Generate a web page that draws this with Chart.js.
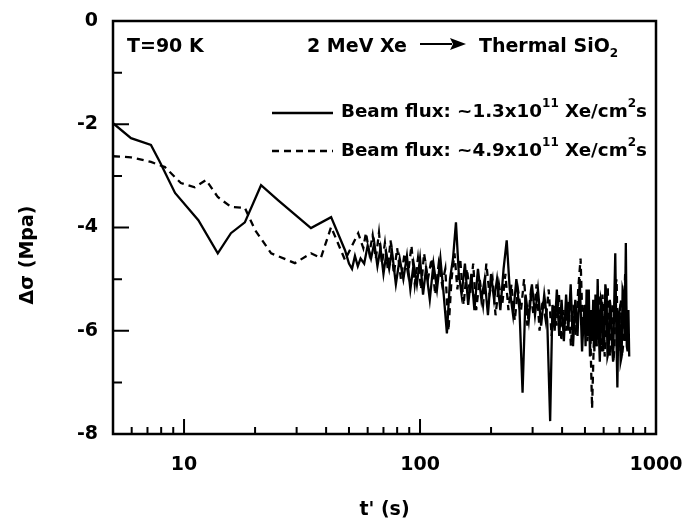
<!DOCTYPE html>
<html>
<head>
<meta charset="utf-8">
<script src="https://cdn.jsdelivr.net/npm/chart.js@4.4.0/dist/chart.umd.min.js"></script>
<style>
  html, body { margin: 0; padding: 0; background: #fff; }
</style>
</head>
<body>
<canvas id="chart" width="683" height="521"></canvas>
<script>
// t' (s) and stress change (MPa)
const timeSolid = [
  5, 5.96, 7.24, 7.9, 9.16, 11.5, 13.9, 15.8, 18.1, 21.2,
  25, 30.4, 34.5, 42, 48.1,
  50, 51.5, 53, 54.5, 56, 58, 60, 62, 64, 66,
  68, 70, 72, 74, 76, 79, 82, 85, 88, 91,
  94, 97, 100, 103, 106, 110, 114, 118, 122, 126,
  130, 134, 138, 142, 146, 150, 155, 160, 165, 170,
  176, 182, 188, 194, 200, 206, 212, 219, 226, 233,
  240, 248, 256, 264, 272, 280, 289, 298, 307, 316,
  326, 336, 346, 356, 364, 372, 380, 389, 398, 407,
  416, 425, 435, 445, 455, 465, 475, 486,
  497, 503, 508, 514, 519, 525, 530, 536, 542, 548,
  554, 560, 566, 572, 578, 585, 591, 597, 604, 610,
  617, 623, 630, 637, 644, 651, 658, 665, 672, 679,
  686, 693, 700, 708, 715, 722, 730, 737, 745, 752,
  758, 764, 770
];
const stressSolid = [
  -1.98, -2.27, -2.40, -2.73, -3.33, -3.86, -4.50, -4.11, -3.90, -3.18,
  -3.47, -3.80, -4.01, -3.80, -4.44,
  -4.70, -4.80, -4.55, -4.75, -4.60, -4.70, -4.35, -4.60, -4.30, -4.75,
  -4.40, -4.90, -4.50, -4.80, -4.45, -5.10, -4.60, -5.00, -4.55, -5.20,
  -4.70, -5.10, -4.60, -5.30, -4.80, -5.40, -4.70, -5.20, -4.60, -5.30,
  -6.05, -5.00, -4.60, -3.90, -4.90, -5.30, -4.70, -5.50, -4.90, -5.60,
  -4.80, -5.40, -5.00, -5.70, -4.90, -5.40, -5.00, -5.60, -4.80, -4.25,
  -5.20, -5.70, -5.00, -5.60, -7.20, -5.30, -5.80, -5.10, -5.70, -5.20,
  -5.90, -5.30, -5.80, -7.75, -5.50, -6.00, -5.20, -6.10, -5.40, -6.20,
  -5.30, -6.00, -5.10, -6.30, -5.40, -6.10, -5.00, -6.40,
  -5.50, -6.30, -5.20, -6.10, -5.20, -6.50, -5.60, -6.20, -5.40, -6.40,
  -5.30, -6.30, -5.00, -6.00, -6.60, -5.40, -5.50, -6.40, -6.20, -5.10,
  -5.30, -6.50, -6.40, -5.40, -5.60, -6.30, -6.60, -5.50, -4.50, -6.00,
  -7.10, -5.70, -5.60, -6.60, -6.50, -5.20, -5.30, -6.20, -4.30, -6.30,
  -6.40, -5.60, -6.50
];
const timeDashed = [
  5, 5.96, 7.24, 8.3, 9.7, 11.1, 12.4, 13.9, 15.8, 18.1,
  20, 23.4, 29.5, 34.5, 38, 42, 48.1, 54.7,
  57.5, 59, 61, 63, 65, 67, 69, 71, 73, 75,
  77.5, 80, 83, 86, 89, 92, 95, 98, 101, 104,
  108, 112, 116, 120, 124, 128, 132, 136, 140, 144,
  148, 153, 158, 163, 168, 173, 179, 185, 191, 197,
  203, 209, 216, 223, 230, 237, 244, 252, 260, 268,
  276, 285, 294, 303, 312, 321, 331, 341, 351, 361,
  370, 379, 388, 397, 406, 416, 426, 436, 446, 457,
  468, 479, 490, 501, 512, 524, 536, 548, 560, 573,
  580, 586, 593, 599, 606, 612, 619, 625, 632, 639,
  646, 653, 660, 667, 674, 681, 688, 695, 703, 710,
  718, 725, 733, 740, 748, 755, 761, 767
];
const stressDashed = [
  -2.62, -2.64, -2.73, -2.83, -3.14, -3.22, -3.08, -3.41, -3.60, -3.62,
  -4.05, -4.50, -4.69, -4.50, -4.59, -3.99, -4.63, -4.11,
  -4.40, -4.10, -4.50, -4.15, -4.60, -4.10, -4.70, -4.30, -4.80, -4.25,
  -4.90, -4.40, -5.00, -4.50, -4.90, -4.35, -5.10, -4.60, -5.20, -4.50,
  -5.00, -4.60, -5.30, -4.70, -5.10, -4.80, -6.00, -5.00, -4.50, -5.20,
  -4.60, -5.50, -4.80, -5.30, -4.70, -5.60, -5.00, -5.50, -4.70, -5.30,
  -5.00, -5.70, -5.10, -5.50, -4.90, -5.60, -5.10, -5.80, -5.20, -5.60,
  -5.00, -5.90, -5.30, -5.70, -5.10, -6.00, -5.40, -5.80, -5.20, -6.10,
  -5.50, -5.90, -5.30, -6.20, -5.60, -6.00, -5.40, -6.30, -5.50, -6.10,
  -5.20, -4.60, -6.10, -5.50, -6.20, -5.60, -7.50, -5.80, -6.30, -5.30,
  -6.10, -6.40, -5.30, -5.60, -6.50, -6.20, -5.20, -5.20, -6.30, -6.50,
  -5.60, -5.50, -6.60, -6.30, -5.10, -5.00, -6.20, -6.40, -5.70, -5.40,
  -6.50, -6.30, -5.50, -4.90, -5.80, -6.10, -6.30, -6.00
];

const xLabelTicks = [10, 100, 1000];
const xMajorMarks = [10, 100];
const xMinorMarks = [6, 7, 8, 9, 20, 30, 40, 50, 60, 70, 80, 90, 200, 300, 400, 500, 600, 700, 800, 900];
const yLabelTicks = [0, -2, -4, -6, -8];
const yMarks = [-1, -2, -3, -4, -5, -6, -7];

const legendSolid = [["Beam flux: ~1.3x10"], ["11", "sup"], [" Xe/cm"], ["2", "sup"], ["s"]];
const legendDashed = [["Beam flux: ~4.9x10"], ["11", "sup"], [" Xe/cm"], ["2", "sup"], ["s"]];

const FONT = '"DejaVu Sans", "Liberation Sans", sans-serif';

function drawRich(ctx, x, y, parts, size) {
  parts.forEach(([txt, kind]) => {
    if (kind === "sup") {
      ctx.font = "bold 12px " + FONT;
      ctx.fillText(txt, x, y - 8);
    } else if (kind === "sub") {
      ctx.font = "bold 12px " + FONT;
      ctx.fillText(txt, x, y + 7);
    } else {
      ctx.font = "bold " + size + "px " + FONT;
      ctx.fillText(txt, x, y);
    }
    x += ctx.measureText(txt).width;
  });
  return x;
}

const framePlugin = {
  id: "frame",
  afterDraw(chart) {
    const { ctx, chartArea: a, scales: { x, y } } = chart;
    ctx.save();
    ctx.strokeStyle = "#000";
    ctx.fillStyle = "#000";
    ctx.lineWidth = 2.5;
    ctx.strokeRect(a.left, a.top, a.right - a.left, a.bottom - a.top);

    // inward tick marks
    ctx.lineWidth = 2;
    ctx.beginPath();
    yMarks.forEach((v) => {
      const py = y.getPixelForValue(v);
      const len = v % 2 === 0 ? 16 : 9;
      ctx.moveTo(a.left, py);
      ctx.lineTo(a.left + len, py);
    });
    xMinorMarks.forEach((v) => {
      const px = x.getPixelForValue(v);
      ctx.moveTo(px, a.bottom);
      ctx.lineTo(px, a.bottom - 7);
    });
    xMajorMarks.forEach((v) => {
      const px = x.getPixelForValue(v);
      ctx.moveTo(px, a.bottom);
      ctx.lineTo(px, a.bottom - 15);
    });
    ctx.stroke();

    // y axis title
    ctx.save();
    ctx.translate(28, 255);
    ctx.rotate(-Math.PI / 2);
    ctx.font = "bold 19px " + FONT;
    ctx.textAlign = "center";
    ctx.textBaseline = "middle";
    ctx.fillText("Δσ (Mpa)", 0, 0);
    ctx.restore();

    // header notes
    ctx.textBaseline = "middle";
    ctx.textAlign = "left";
    ctx.font = "bold 19px " + FONT;
    ctx.fillText("T=90 K", 127, 47);
    drawRich(ctx, 307, 47, [["2 MeV Xe"]], 19);
    ctx.lineWidth = 2;
    ctx.beginPath();
    ctx.moveTo(420, 44);
    ctx.lineTo(452, 44);
    ctx.stroke();
    ctx.beginPath();
    ctx.moveTo(466, 44);
    ctx.lineTo(450, 38);
    ctx.lineTo(453, 44);
    ctx.lineTo(450, 50);
    ctx.closePath();
    ctx.fill();
    drawRich(ctx, 479, 47, [["Thermal SiO"], ["2", "sub"]], 19);

    // legend
    ctx.lineWidth = 2.3;
    ctx.beginPath();
    ctx.moveTo(272, 113);
    ctx.lineTo(333, 113);
    ctx.stroke();
    ctx.setLineDash([7, 5]);
    ctx.beginPath();
    ctx.moveTo(272, 151);
    ctx.lineTo(333, 151);
    ctx.stroke();
    ctx.setLineDash([]);
    drawRich(ctx, 341, 112, legendSolid, 18.3);
    drawRich(ctx, 341, 151, legendDashed, 18.3);
    ctx.restore();
  }
};

const tickFont = { family: FONT, size: 19, weight: "bold" };

function noLabelPadding(s) {
  s.paddingTop = 0;
  s.paddingBottom = 0;
  s.paddingLeft = 0;
  s.paddingRight = 0;
}

new Chart(document.getElementById("chart"), {
  type: "line",
  data: {
    datasets: [
      {
        label: "Beam flux: ~1.3x10^11 Xe/cm^2s",
        data: timeSolid.map((t, i) => ({ x: t, y: stressSolid[i] })),
        borderColor: "#000",
        borderWidth: 2.3,
        pointRadius: 0,
        tension: 0,
      },
      {
        label: "Beam flux: ~4.9x10^11 Xe/cm^2s",
        data: timeDashed.map((t, i) => ({ x: t, y: stressDashed[i] })),
        borderColor: "#000",
        borderWidth: 2.3,
        borderDash: [7, 5],
        pointRadius: 0,
        tension: 0,
      },
    ],
  },
  options: {
    responsive: false,
    animation: false,
    layout: { padding: { top: 21, right: 27, left: 0, bottom: 0 } },
    plugins: {
      legend: { display: false },
      tooltip: { enabled: false },
    },
    scales: {
      x: {
        type: "logarithmic",
        min: 5,
        max: 1000,
        grid: { display: false, drawTicks: false },
        border: { display: false },
        afterBuildTicks: (s) => { s.ticks = xLabelTicks.map((v) => ({ value: v })); },
        afterFit: (s) => { s.height = 87; noLabelPadding(s); },
        ticks: {
          autoSkip: false,
          maxRotation: 0,
          padding: 20,
          color: "#000",
          font: tickFont,
          callback: (v) => String(v),
        },
        title: {
          display: true,
          text: "t' (s)",
          color: "#000",
          font: tickFont,
          padding: { top: 0, bottom: 0 },
        },
      },
      y: {
        min: -8,
        max: 0,
        grid: { display: false, drawTicks: false },
        border: { display: false },
        afterBuildTicks: (s) => { s.ticks = yLabelTicks.map((v) => ({ value: v })); },
        afterFit: (s) => { s.width = 113; noLabelPadding(s); },
        ticks: {
          padding: 15,
          color: "#000",
          font: tickFont,
          callback: (v) => String(v),
        },
      },
    },
  },
  plugins: [framePlugin],
});
</script>
</body>
</html>
